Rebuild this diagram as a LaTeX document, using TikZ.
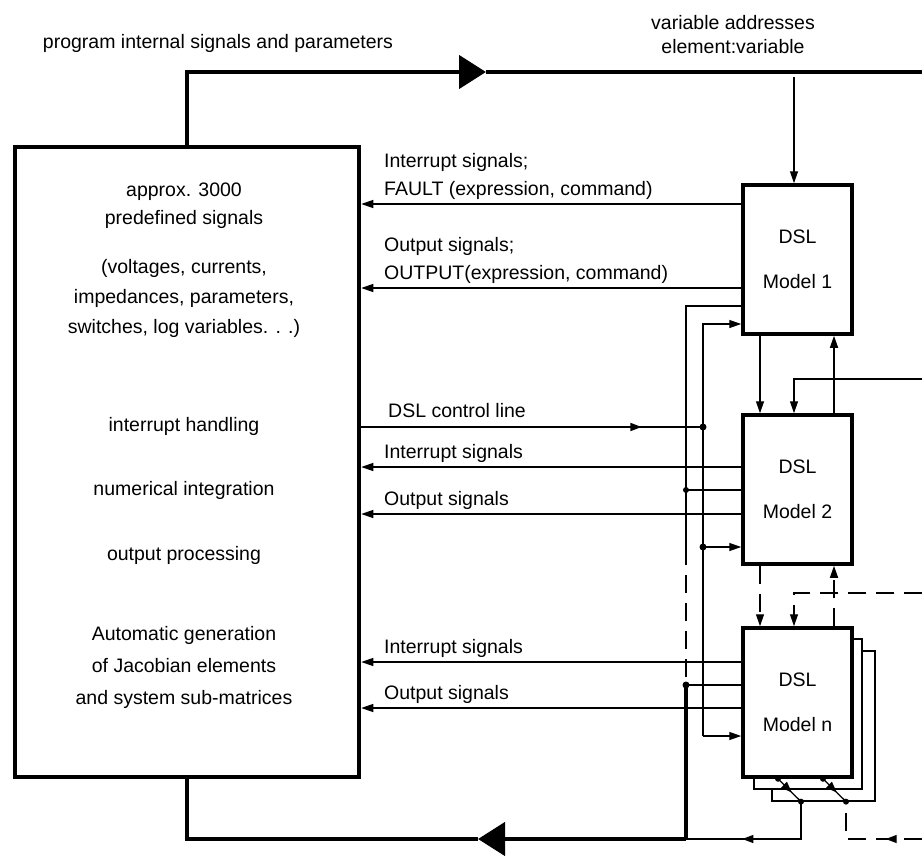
\documentclass[tikz,border=0pt]{standalone}
\usepackage{fontspec}
\setmainfont{Liberation Sans}
\usepackage{tikz}
\usetikzlibrary{arrows.meta,decorations.markings,positioning,calc}

\begin{document}
\begin{tikzpicture}[x=1pt,y=-1pt,
		font=\fontsize{19.5pt}{28pt}\selectfont,
		main/.style={line width=4.5pt},
		sig/.style={line width=1.3pt},
		arr/.style={-{Triangle[length=12pt,width=8pt]}},
		bigarr/.style={-{Triangle[length=27pt,width=33pt]}},
		model/.style={draw, line width=3.5pt, fill=white, minimum width=109pt, minimum height=149pt, align=center, inner sep=0pt},
		stackbox/.style={draw, line width=1.3pt, fill=white, inner sep=0pt},
		dot/.style={circle, fill, inner sep=0pt, minimum size=7pt},
		dsh/.style={dash pattern=on 18pt off 10pt},
		lbl/.style={anchor=south west, inner sep=0pt, align=left, text depth=4.5pt},
		midarrow/.style={postaction={decorate}, decoration={markings, mark=at position #1 with {\arrow{Triangle[length=11pt,width=8pt]}}}}]
		\useasboundingbox (0,0) rectangle (922,855);

		\node[draw, line width=4.5pt, minimum width=344pt, minimum height=630pt] (prog) at (187,462) {};
		\node[stackbox, minimum width=103pt, minimum height=150pt] (mn3) at (823.5,726) {};
		\node[stackbox, minimum width=108pt, minimum height=150pt] (mn2) at (808,714) {};
		\node[model] (m1) at (797.5,259.5) {DSL\\[17pt]Model 1};
		\node[model] (m2) at (797.5,489.5) {DSL\\[17pt]Model 2};
		\node[model] (mn) at (797.5,702.5) {DSL\\[17pt]Model n};

		\node[align=center] (t1) at (184,206) {approx. 3000\\predefined signals};
		\node[align=center] (t2) at (184,298) {(voltages, currents,\\[2pt]impedances, parameters,\\[2pt]switches, log variables. . .)};
		\node (t3) at (184,426) {interrupt handling};
		\node (t4) at (184,490) {numerical integration};
		\node (t5) at (184,555) {output processing};
		\node[align=center] (t6) at (184,667) {Automatic generation\\[4pt]of Jacobian elements\\[4pt]and system sub-matrices};

		\node (top) at (218,43) {program internal signals and parameters};
		\node[align=center] (vars) at (733,35) {variable addresses\\[-4pt]element:variable};

		\node[lbl] (l1) at (384,200) {Interrupt signals;\\FAULT (expression, command)};
		\node[lbl] (l2) at (384,284) {Output signals;\\OUTPUT(expression, command)};
		\node[lbl] (l3) at (388,422) {DSL control line};
		\node[lbl] (l4) at (384,463) {Interrupt signals};
		\node[lbl] (l5) at (384,510) {Output signals};
		\node[lbl] (l6) at (384,658) {Interrupt signals};
		\node[lbl] (l7) at (384,704) {Output signals};

		\coordinate (tr) at (922,72);
		\coordinate (va) at (794,77);
		\coordinate (jn) at (686,685);
		\coordinate (jb) at (686,839);
		\coordinate (bus) at (703,736);
		\coordinate (r2) at (922,379);
		\coordinate (r3) at (922,593);
		\coordinate (r4) at (922,839);

		\draw[main, bigarr] (prog.north) |- (486,72);
		\draw[main] (486,72) -- (tr);
		\draw[main] (jn) -- (jb);
		\draw[main, bigarr] (jb) -- (478,839);
		\draw[main] (478,839) -| (prog.south);

		\draw[sig, arr] (va) -- (m1.north -| 794,0);
		\draw[sig, arr] (m1.west |- 0,204) -- (prog.east |- 0,204);
		\draw[sig, arr] (m1.west |- 0,288) -- (prog.east |- 0,288);
		\draw[sig, arr] (m2.west |- 0,467) -- (prog.east |- 0,467);
		\draw[sig, arr] (m2.west |- 0,514) -- (prog.east |- 0,514);
		\draw[sig, arr] (mn.west |- 0,662) -- (prog.east |- 0,662);
		\draw[sig, arr] (mn.west |- 0,708) -- (prog.east |- 0,708);
		\draw[sig, midarrow=0.82] (prog.east |- 0,427) -- (703,427);

		\draw[sig] (m1.west |- 0,306) -| (686,547);
		\draw[sig, dsh] (686,547) -- (jn);
		\draw[sig] (m2.west |- 0,490) -- (686,490);
		\draw[sig] (mn.west |- 0,685) -- (jn);
		\draw[sig, arr] (bus) |- (m1.west |- 0,324);
		\draw[sig, arr] (bus) -- (mn.west |- 0,736);
		\draw[sig, arr] (703,547) -- (m2.west |- 0,547);
		\node[dot] at (703,427) {};
		\node[dot] at (703,547) {};
		\node[dot, minimum size=6pt] at (686,490) {};
		\node[dot] at (jn) {};

		\draw[sig, arr] (m1.south -| 760,0) -- (m2.north -| 760,0);
		\draw[sig, arr] (r2) -| (m2.north -| 794,0);
		\draw[sig, arr] (m2.north -| 834,0) -- (m1.south -| 834,0);
		\draw[sig, dsh, arr] (m2.south -| 760,0) -- (mn.north -| 760,0);
		\draw[sig, dsh, arr] (r3) -| (mn.north -| 794,0);
		\draw[sig, dsh, arr] (mn.north -| 834,0) -- (m2.south -| 834,0);

		\draw[sig, midarrow=0.6] (mn.south -| 778,0) -- (mn3.south -| 801,0);
		\draw[sig, midarrow=0.6] (mn.south -| 823,0) -- (mn3.south -| 846,0);
		\draw[sig, midarrow=0.63] (mn3.south -| 801,0) |- (jb);
		\draw[sig, dsh, midarrow=0.32] (r4) -| (mn3.south -| 846,0);
		\foreach \x/\n in {778/mn, 801/mn3, 823/mn, 846/mn3}
			\node[dot, minimum size=6pt] at (\n.south -| \x,0) {};
	\end{tikzpicture}
\end{document}
